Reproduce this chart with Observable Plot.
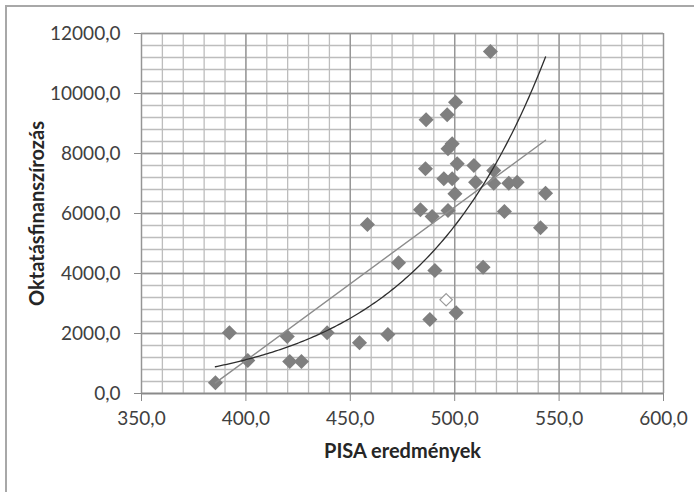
<!DOCTYPE html>
<html>
<head>
<meta charset="utf-8">
<script src="https://cdn.jsdelivr.net/npm/d3@7"></script>
<script src="https://cdn.jsdelivr.net/npm/@observablehq/plot@0.6"></script>
<style>
  html, body { margin: 0; padding: 0; background: #fff; }
  #wrap { position: relative; width: 694px; height: 492px; overflow: hidden; }
  #frame { position: absolute; left: 5px; top: 5px; width: 720px; height: 520px; border: 2px solid #a8a8a8; box-sizing: border-box; }
  #chart { position: absolute; left: 0; top: 0; }
  g[aria-label="x-axis label"], g[aria-label="y-axis label"] { font-weight: bold; fill: #262626; font-size: 20px; }
</style>
</head>
<body>
<div id="wrap"><div id="frame"></div><div id="chart"></div></div>
<script>
// PISA results (x) and education funding (y) — filled diamonds
const pisa = [385.4, 392.1, 400.9, 419.8, 421.0, 426.6, 438.9, 454.4, 468.0, 458.2,
  473.1, 488.1, 490.5, 500.7, 513.6, 483.6, 489.2, 496.8, 523.8, 541.1,
  543.5, 500.1, 494.8, 498.8, 510.0, 518.7, 525.9, 529.9, 486.0, 501.2,
  509.2, 518.7, 498.8, 496.8, 486.3, 496.4, 500.4, 517.1];
const funding = [357, 2023, 1100, 1900, 1067, 1067, 2023, 1690, 1967, 5633,
  4357, 2467, 4100, 2690, 4210, 6123, 5900, 6100, 6067, 5523,
  6677, 6657, 7157, 7157, 7043, 7010, 7010, 7043, 7490, 7657,
  7600, 7433, 8323, 8157, 9123, 9290, 9710, 11400];
// highlighted (open) diamond
const pisaOpen = [495.9];
const fundingOpen = [3123];

const xTicksMajor = [350, 400, 450, 500, 550, 600];
const yTicksMajor = [0, 2000, 4000, 6000, 8000, 10000, 12000];

const pts = pisa.map((x, i) => ({x, y: funding[i]}));
const openPts = pisaOpen.map((x, i) => ({x, y: fundingOpen[i]}));
const allPts = pts.concat(openPts);

// exponential trendline fitted (least squares on ln y) from the data
const mx = d3.mean(allPts, d => d.x), my = d3.mean(allPts, d => Math.log(d.y));
const b = d3.sum(allPts, d => (d.x - mx) * (Math.log(d.y) - my)) / d3.sum(allPts, d => (d.x - mx) ** 2);
const a = my - b * mx;
const [x0, x1] = d3.extent(allPts, d => d.x);
const expLine = d3.range(x0, x1, 1).concat([x1]).map(x => ({x, y: Math.exp(a + b * x)}));

const fmt = d => d.toFixed(1).replace(".", ",");

const chart = Plot.plot({
  width: 694,
  height: 492,
  marginLeft: 141,
  marginRight: 31,
  marginTop: 33,
  marginBottom: 99,
  style: {fontFamily: "Lato, 'Open Sans', sans-serif", fontSize: "19px", color: "#404040", background: "transparent"},
  x: {domain: [350, 600]},
  y: {domain: [0, 12000]},
  marks: [
    Plot.gridX(d3.range(350, 601, 10), {stroke: "#bdbdbd", strokeOpacity: 1, strokeWidth: 1.3}),
    Plot.gridY(d3.range(0, 12001, 400), {stroke: "#bdbdbd", strokeOpacity: 1, strokeWidth: 1.3}),
    Plot.gridX(xTicksMajor, {stroke: "#959595", strokeOpacity: 1, strokeWidth: 1.3}),
    Plot.gridY(yTicksMajor, {stroke: "#959595", strokeOpacity: 1, strokeWidth: 1.3}),
    Plot.axisX({ticks: xTicksMajor, tickFormat: fmt, tickSize: 8, tickPadding: 10, stroke: "#8a8a8a",
      label: "PISA eredmények", labelAnchor: "center", labelArrow: "none", labelOffset: 64, fill: "#404040"}),
    Plot.axisY({ticks: yTicksMajor, tickFormat: fmt, tickSize: 7, tickPadding: 14, stroke: "#8a8a8a",
      label: "Oktatásfinanszírozás", labelAnchor: "center", labelArrow: "none", labelOffset: 112, fill: "#404040"}),
    Plot.ruleY([0], {stroke: "#8a8a8a", strokeWidth: 1.3}),
    Plot.dot(pts, {x: "x", y: "y", symbol: "diamond2", r: 6.8, fill: "#7f7f7f", stroke: "none"}),
    Plot.dot(openPts, {x: "x", y: "y", symbol: "diamond2", r: 5.6, fill: "white", stroke: "#9a9a9a", strokeWidth: 1.2}),
    Plot.linearRegressionY(allPts, {x: "x", y: "y", ci: 0, stroke: "#8c8c8c", strokeWidth: 1.4}),
    Plot.line(expLine, {x: "x", y: "y", stroke: "#2e2e2e", strokeWidth: 1.3, curve: "linear"})
  ]
});
document.getElementById("chart").appendChild(chart);
</script>
</body>
</html>
